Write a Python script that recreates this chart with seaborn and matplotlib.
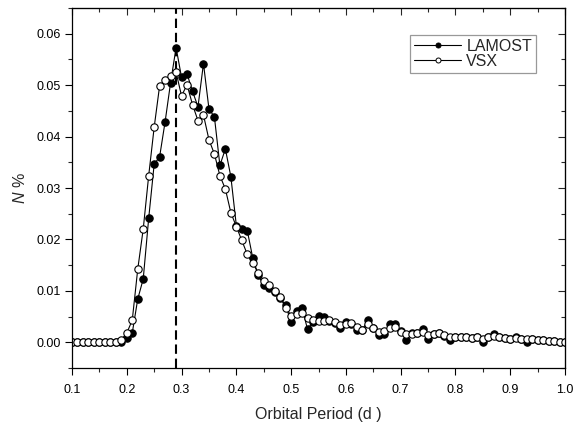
import numpy as np
import pandas as pd
import matplotlib
matplotlib.use("Agg")
import matplotlib.pyplot as plt
from matplotlib.lines import Line2D
import seaborn as sns

# ---- data ----
period = [round(0.10 + 0.01 * i, 2) for i in range(91)]

lamost = [0.0, 0.0, 0.0, 0.0, 0.0, 0.0, 0.0, 0.0, 0.0, 0.0,          # 0.10-0.19
          0.0008, 0.0018, 0.0084, 0.0123, 0.0241, 0.0346, 0.0361, 0.0429, 0.0505, 0.0573,   # 0.20-0.29
          0.0515, 0.0522, 0.0488, 0.0458, 0.0542, 0.0454, 0.0438, 0.0344, 0.0376, 0.0322,   # 0.30-0.39
          0.0227, 0.0221, 0.0217, 0.0164, 0.0130, 0.0111, 0.0106, 0.0097, 0.0086, 0.0072,   # 0.40-0.49
          0.0039, 0.0060, 0.0067, 0.0025, 0.0040, 0.0052, 0.0050, 0.0042, 0.0038, 0.0027,   # 0.50-0.59
          0.0039, 0.0036, 0.0023, 0.0024, 0.0043, 0.0027, 0.0014, 0.0017, 0.0035, 0.0036,   # 0.60-0.69
          0.0021, 0.0005, 0.0018, 0.0018, 0.0025, 0.0006, 0.0016, 0.0019, 0.0012, 0.0004,   # 0.70-0.79
          0.0011, 0.0010, 0.0010, 0.0009, 0.0010, 0.0001, 0.0010, 0.0017, 0.0010, 0.0008,   # 0.80-0.89
          0.0007, 0.0010, 0.0007, 0.0001, 0.0006, 0.0004, 0.0004, 0.0003, 0.0003, 0.0001,   # 0.90-0.99
          0.0000]                                                                          # 1.00

vsx = [0.0, 0.0, 0.0, 0.0, 0.0, 0.0, 0.0, 0.0, 0.0001, 0.0005,              # 0.10-0.19
       0.0018, 0.0043, 0.0142, 0.0220, 0.0324, 0.0418, 0.0499, 0.0510, 0.0518, 0.0525,   # 0.20-0.29
       0.0479, 0.0501, 0.0462, 0.0431, 0.0442, 0.0394, 0.0366, 0.0324, 0.0298, 0.0252,   # 0.30-0.39
       0.0225, 0.0198, 0.0171, 0.0154, 0.0135, 0.0120, 0.0111, 0.0100, 0.0088, 0.0067,   # 0.40-0.49
       0.0052, 0.0055, 0.0056, 0.0047, 0.0044, 0.0042, 0.0041, 0.0043, 0.0039, 0.0034,   # 0.50-0.59
       0.0036, 0.0037, 0.0030, 0.0023, 0.0036, 0.0027, 0.0020, 0.0022, 0.0027, 0.0030,   # 0.60-0.69
       0.0020, 0.0017, 0.0017, 0.0018, 0.0020, 0.0014, 0.0017, 0.0019, 0.0014, 0.0011,   # 0.70-0.79
       0.0011, 0.0010, 0.0010, 0.0009, 0.0010, 0.0007, 0.0011, 0.0013, 0.0010, 0.0008,   # 0.80-0.89
       0.0007, 0.0008, 0.0007, 0.0006, 0.0006, 0.0004, 0.0004, 0.0003, 0.0003, 0.0001,   # 0.90-0.99
       0.0000]                                                                          # 1.00

peak_period = 0.29
series_names = ["LAMOST", "VSX"]
x_ticks = [0.1, 0.2, 0.3, 0.4, 0.5, 0.6, 0.7, 0.8, 0.9, 1.0]
y_ticks = [0.00, 0.01, 0.02, 0.03, 0.04, 0.05, 0.06]

# ---- style ----
sns.set_style("ticks")
plt.rcParams["font.family"] = ["Liberation Sans", "DejaVu Sans"]
plt.rcParams["mathtext.fontset"] = "custom"
plt.rcParams["mathtext.it"] = "Liberation Sans:italic"
plt.rcParams["mathtext.rm"] = "Liberation Sans"

fig = plt.figure(figsize=(5.75, 4.28), dpi=100)
ax = fig.add_axes([72 / 575, (428 - 368) / 428, (565 - 72) / 575, 360 / 428])

df = pd.DataFrame({"period": period, "LAMOST": lamost, "VSX": vsx})

MS = 5.3
sns.lineplot(data=df, x="period", y="LAMOST", ax=ax, color="black", lw=0.8,
             marker="o", markersize=MS, markerfacecolor="black",
             markeredgecolor="black", markeredgewidth=0.8)
sns.lineplot(data=df, x="period", y="VSX", ax=ax, color="black", lw=0.8,
             marker="o", markersize=MS, markerfacecolor="white",
             markeredgecolor="black", markeredgewidth=0.8)

ax.axvline(peak_period, color="black", lw=1.5, linestyle=(0, (4.5, 2.3)), zorder=1)

ax.set_xlim(0.1, 1.0)
ax.set_ylim(-0.005, 0.065)
ax.set_xticks(x_ticks)
ax.set_xticklabels([f"{t:.1f}" for t in x_ticks])
ax.set_yticks(y_ticks)
ax.set_yticklabels([f"{t:.2f}" for t in y_ticks])
ax.set_xticks(np.arange(0.15, 1.0, 0.1), minor=True)
ax.set_yticks(np.arange(-0.005, 0.065, 0.01), minor=True)

ax.tick_params(axis="both", which="major", direction="out", length=5, width=0.8,
               labelsize=9, colors="black")
ax.tick_params(axis="x", which="major", pad=6.5)
ax.tick_params(axis="y", which="major", pad=3)
ax.tick_params(axis="both", which="minor", direction="out", length=3, width=0.8)

sec_x = ax.secondary_xaxis("top")
sec_x.set_xticks(x_ticks)
sec_x.set_xticks(np.arange(0.15, 1.0, 0.1), minor=True)
sec_x.tick_params(which="major", direction="in", length=5, width=0.8, labeltop=False)
sec_x.tick_params(which="minor", direction="in", length=3, width=0.8)
sec_y = ax.secondary_yaxis("right")
sec_y.set_yticks(y_ticks)
sec_y.set_yticks(np.arange(-0.005, 0.065, 0.01), minor=True)
sec_y.tick_params(which="major", direction="in", length=5, width=0.8, labelright=False)
sec_y.tick_params(which="minor", direction="in", length=3, width=0.8)

for sp in ax.spines.values():
    sp.set_visible(True)
    sp.set_linewidth(0.9)
    sp.set_color("black")

ax.set_xlabel("Orbital Period (d )", fontsize=11.5, labelpad=8)
ax.set_ylabel(r"$N$ %", fontsize=11.5, labelpad=6)

handles = [
    Line2D([], [], color="black", lw=0.8, marker="o", markersize=3.6,
           markerfacecolor="black", markeredgecolor="black", markeredgewidth=0.7),
    Line2D([], [], color="black", lw=0.8, marker="o", markersize=3.6,
           markerfacecolor="white", markeredgecolor="black", markeredgewidth=0.7),
]
leg = ax.legend(handles, series_names, loc="upper right",
                bbox_to_anchor=(536 / 575, (428 - 35) / 428),
                bbox_transform=fig.transFigure, borderaxespad=0,
                fontsize=11.5, frameon=True, fancybox=False,
                edgecolor="#808080", handlelength=2.9, handletextpad=0.35,
                labelspacing=0.0, borderpad=0.25)
leg.get_frame().set_linewidth(0.9)

fig.savefig("out.png", dpi=100)
